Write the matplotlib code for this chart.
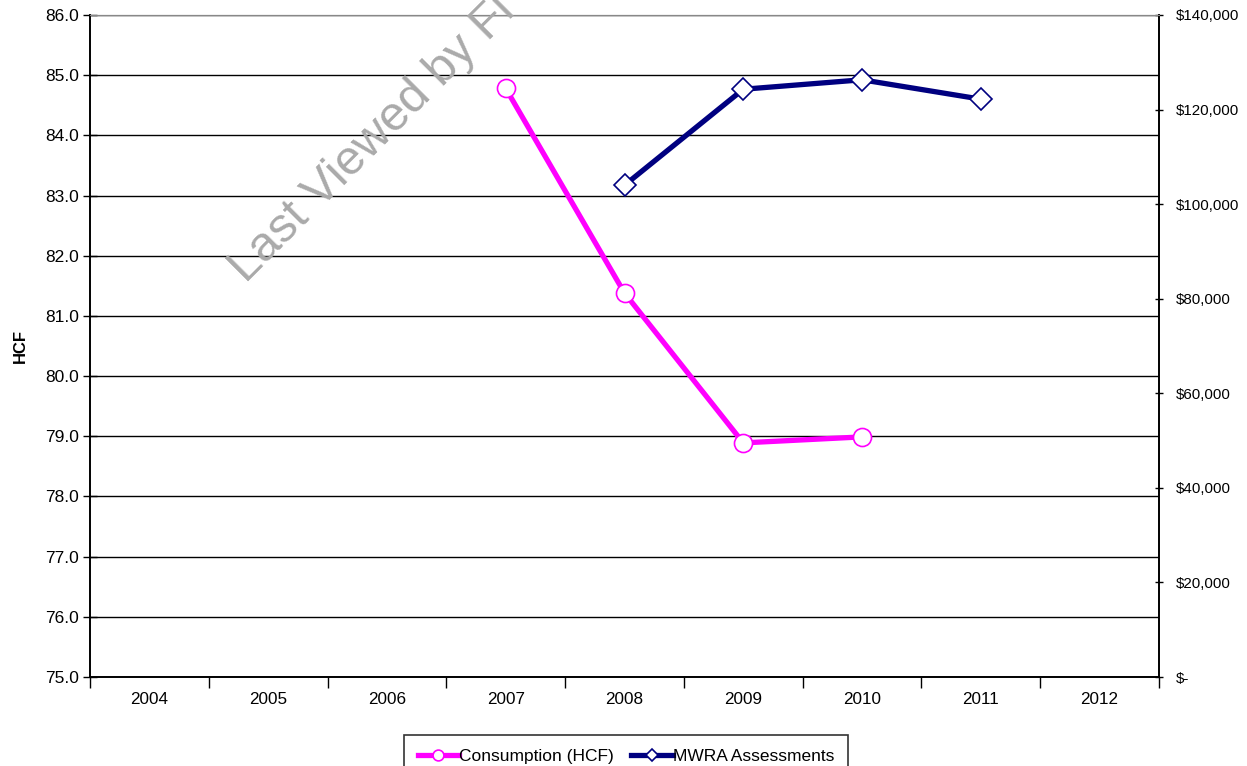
import numpy as np
import matplotlib.pyplot as plt
from matplotlib.ticker import FuncFormatter, MultipleLocator

plt.rcParams['font.family'] = ['Liberation Sans', 'DejaVu Sans']

years = ['2004', '2005', '2006', '2007', '2008', '2009', '2010', '2011', '2012']
consumption = [np.nan, np.nan, np.nan, 84.78, 81.38, 78.89, 78.99, np.nan, np.nan]
assessments = [np.nan, np.nan, np.nan, np.nan, 104000, 124300, 126300, 122200, np.nan]


def money(v, pos):
    if v == 0:
        return '$-'
    return '${:,.0f}'.format(v)


def main():
    fig = plt.figure(figsize=(12.47, 7.66), dpi=100)
    ax = fig.add_axes([90 / 1247, 1 - 677 / 766, (1159 - 90) / 1247, (677 - 15) / 766])
    ax2 = ax.twinx()

    x = np.arange(len(years))

    # HCF gridlines
    ax.set_ylim(75, 86)
    ax.yaxis.set_major_locator(MultipleLocator(1))
    ax.yaxis.set_major_formatter(FuncFormatter(lambda v, p: '{:.1f}'.format(v)))
    ax.grid(axis='y', color='black', linewidth=1)
    ax.set_axisbelow(True)

    # categories: ticks sit on the boundaries, labels on the centres
    ax.set_xlim(-0.5, len(years) - 0.5)
    ax.set_xticks(np.arange(-0.5, len(years), 1))
    ax.set_xticklabels([])
    ax.set_xticks(x, minor=True)
    ax.set_xticklabels(years, minor=True, fontsize=12.3)
    ax.tick_params(axis='x', which='major', direction='out', length=8, width=1)
    ax.tick_params(axis='x', which='minor', length=0, pad=11)
    ax.tick_params(axis='y', direction='inout', length=10, width=1, labelsize=12.5,
                   pad=3, color='black')

    for s in ['left', 'bottom', 'right']:
        ax.spines[s].set_linewidth(1.2)
        ax2.spines[s].set_linewidth(1.2)
    ax.spines['top'].set_color('#888888')
    ax2.spines['top'].set_color('#888888')

    ax.set_ylabel('HCF', fontsize=12, fontweight='bold', labelpad=12)

    l1, = ax.plot(x, consumption, color='#ff00ff', linewidth=3.8, marker='o',
                  markersize=13, markerfacecolor='white', markeredgecolor='#ff00ff',
                  markeredgewidth=1.2, label='Consumption (HCF)', zorder=3)

    ax2.set_ylim(0, 140000)
    ax2.yaxis.set_major_locator(MultipleLocator(20000))
    ax2.yaxis.set_major_formatter(FuncFormatter(money))
    ax2.tick_params(axis='y', direction='inout', length=6, width=1, labelsize=10.9, pad=9)
    l2, = ax2.plot(x, assessments, color='#000080', linewidth=3.8, marker='D',
                   markersize=11, markerfacecolor='white', markeredgecolor='#000080',
                   markeredgewidth=1.2, label='MWRA Assessments', zorder=3)

    fig.text(246 / 1247, 1 - 284 / 766, 'Last Viewed by Fi', rotation=45, fontsize=35,
             color='#aaaaaa', ha='left', va='baseline', rotation_mode='anchor')

    leg = fig.legend([l1, l2], ['Consumption (HCF)', 'MWRA Assessments'],
                     loc='upper center', bbox_to_anchor=(626 / 1247, 1 - 735 / 766),
                     borderaxespad=0, ncol=2, fontsize=12.5, frameon=True,
                     fancybox=False, edgecolor='black', handlelength=2.4,
                     handletextpad=0.0, columnspacing=1.0, borderpad=0.8,
                     markerscale=0.6)
    leg.get_frame().set_linewidth(1.2)

    fig.savefig('out.png', dpi=100)


if __name__ == '__main__':
    main()
